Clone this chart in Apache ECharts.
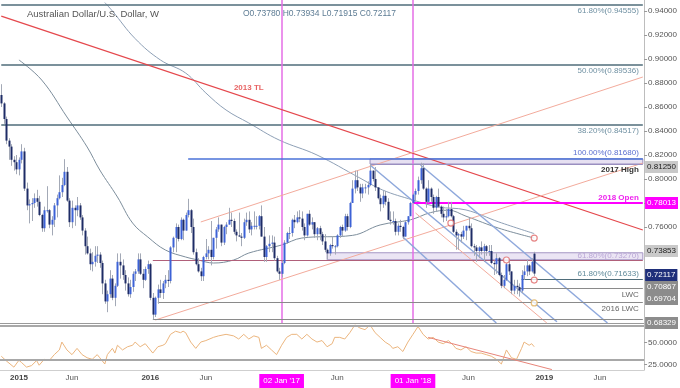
<!DOCTYPE html>
<html><head><meta charset="utf-8">
<script src="https://cdn.jsdelivr.net/npm/echarts@6/dist/echarts.min.js"></script>
<style>html,body{margin:0;padding:0;background:#fff}#c{width:680px;height:388px}</style>
</head><body><div id="c"></div>
<script>
// ---------- data ----------
const firstWeek = '2014-11-17';
const weekCount = 255;
const tickWeeks = [7, 28, 59, 81, 111, 133, 163, 185, 215, 237];
const tickTexts = ['2015','Jun','2016','Jun',"02 Jan '17",'Jun',"01 Jan '18",'Jun','2019','Jun'];
const markedWeeks = [111, 163];
const priceTicks = [0.76,0.78,0.80,0.82,0.84,0.86,0.88,0.90,0.92,0.94];
const rsiTicks = [25, 50];
const rsiLevels = [70, 30];

const opens = [.8700,.8630,.8500,.8320,.8270,.8160,.8140,.8080,.8160,.8230,
.7920,.7780,.7790,.7800,.7840,.7810,.7700,.7590,.7740,.7740,
.7620,.7660,.7780,.7840,.7890,.7950,.8060,.7820,.7640,.7760,
.7740,.7780,.7680,.7570,.7440,.7380,.7290,.7310,.7360,.7370,
.7300,.7130,.6980,.7040,.7170,.7010,.7110,.7310,.7280,.7200,
.7130,.7040,.7100,.7210,.7230,.7330,.7210,.7160,.7250,.7290,
.7010,.6870,.7010,.7080,.7050,.7130,.7160,.7150,.7430,.7510,
.7600,.7500,.7660,.7570,.7700,.7740,.7600,.7390,.7290,.7230,
.7190,.7350,.7380,.7410,.7350,.7510,.7580,.7620,.7470,.7600,
.7620,.7660,.7650,.7560,.7530,.7520,.7510,.7640,.7660,.7580,
.7610,.7610,.7610,.7690,.7520,.7350,.7440,.7460,.7470,.7340,
.7230,.7210,.7300,.7470,.7550,.7550,.7660,.7640,.7680,.7670,
.7600,.7530,.7710,.7620,.7640,.7540,.7590,.7540,.7480,.7410,
.7380,.7450,.7440,.7440,.7530,.7600,.7570,.7690,.7600,.7800,
.7920,.7990,.7930,.7880,.7930,.7930,.7950,.8070,.8000,.7930,
.7840,.7790,.7860,.7810,.7660,.7650,.7650,.7560,.7610,.7600,
.7520,.7640,.7690,.7800,.7870,.7900,.7990,.8090,.7920,.7810,
.7920,.7850,.7760,.7850,.7770,.7710,.7680,.7690,.7750,.7690,
.7560,.7530,.7540,.7520,.7570,.7610,.7590,.7440,.7430,.7400,
.7430,.7400,.7440,.7400,.7400,.7300,.7290,.7340,.7200,.7110,
.7160,.7290,.7230,.7070,.7110,.7100,.7070,.7200,.7230,.7280,
.7230,.73780];
const highs = [.8790,.8640,.8520,.8340,.8290,.8190,.8200,.8180,.8290,.8260,
.7970,.7830,.7840,.7880,.7910,.7860,.7710,.7770,.7940,.7750,
.7690,.7800,.7870,.8030,.8010,.8165,.8100,.7840,.7820,.7780,
.7850,.7800,.7700,.7590,.7520,.7420,.7390,.7440,.7440,.7390,
.7320,.7160,.7070,.7240,.7200,.7130,.7380,.7380,.7330,.7240,
.7180,.7160,.7230,.7250,.7380,.7380,.7250,.7270,.7320,.7300,
.7050,.7020,.7120,.7160,.7150,.7200,.7240,.7440,.7520,.7630,
.7620,.7680,.7670,.7720,.7835,.7750,.7670,.7420,.7340,.7260,
.7360,.7500,.7440,.7650,.7510,.7600,.7680,.7620,.7610,.7640,
.7760,.7720,.7670,.7580,.7720,.7550,.7670,.7720,.7730,.7640,
.7730,.7690,.7700,.7780,.7600,.7450,.7530,.7530,.7520,.7360,
.7260,.7320,.7490,.7560,.7600,.7670,.7700,.7730,.7740,.7730,
.7630,.7710,.7740,.7680,.7640,.7600,.7610,.7560,.7540,.7420,
.7460,.7520,.7450,.7540,.7610,.7620,.7710,.7710,.7810,.7990,
.8070,.8070,.7960,.7960,.7960,.7980,.8125,.8070,.8100,.7930,
.7870,.7900,.7900,.7840,.7730,.7730,.7670,.7630,.7660,.7610,
.7650,.7690,.7810,.7880,.7920,.8020,.8136,.8130,.7930,.7990,
.7930,.7870,.7860,.7920,.7780,.7770,.7750,.7810,.7810,.7700,
.7580,.7550,.7560,.7610,.7610,.7680,.7630,.7460,.7450,.7440,
.7480,.7460,.7450,.7450,.7450,.7320,.7380,.7350,.7220,.7200,
.7300,.7320,.7230,.7160,.7160,.7130,.7240,.7280,.7330,.7290,
.7340,.73934];
const lows = [.8600,.8460,.8290,.8160,.8110,.8070,.8040,.8030,.8130,.7900,
.7740,.7630,.7650,.7760,.7770,.7690,.7560,.7560,.7720,.7590,
.7530,.7600,.7680,.7830,.7850,.7940,.7810,.7600,.7590,.7610,
.7690,.7660,.7530,.7370,.7370,.7240,.7230,.7270,.7300,.7260,
.7040,.6960,.6890,.7010,.6990,.6940,.7100,.7170,.7160,.7070,
.7020,.7010,.7060,.7150,.7210,.7200,.7090,.7150,.7210,.6990,
.6830,.6850,.6960,.7010,.7000,.7090,.7100,.7130,.7390,.7390,
.7480,.7490,.7490,.7570,.7680,.7550,.7370,.7280,.7220,.7150,
.7150,.7330,.7330,.7280,.7330,.7420,.7560,.7440,.7450,.7540,
.7620,.7600,.7540,.7480,.7520,.7440,.7500,.7610,.7550,.7530,
.7580,.7580,.7580,.7520,.7310,.7310,.7390,.7390,.7320,.7220,
.7160,.7180,.7290,.7460,.7500,.7520,.7590,.7630,.7640,.7570,
.7490,.7520,.7610,.7580,.7510,.7490,.7490,.7450,.7390,.7330,
.7360,.7420,.7370,.7430,.7510,.7520,.7560,.7570,.7590,.7800,
.7880,.7900,.7810,.7840,.7880,.7870,.7940,.7980,.7900,.7830,
.7730,.7760,.7780,.7660,.7620,.7620,.7530,.7530,.7560,.7500,
.7520,.7620,.7690,.7790,.7810,.7870,.7960,.7910,.7760,.7800,
.7810,.7710,.7730,.7760,.7680,.7640,.7650,.7680,.7680,.7550,
.7410,.7410,.7470,.7500,.7490,.7570,.7430,.7360,.7310,.7340,
.7370,.7310,.7360,.7360,.7290,.7200,.7210,.7190,.7090,.7090,
.7150,.7200,.7040,.7040,.7040,.7020,.7050,.7160,.7190,.7200,
.7220,.71915];
const closes = [.8630,.8500,.8320,.8270,.8160,.8140,.8080,.8160,.8230,.7920,
.7780,.7790,.7800,.7840,.7810,.7700,.7590,.7740,.7740,.7620,
.7660,.7780,.7840,.7890,.7950,.8060,.7820,.7640,.7760,.7740,
.7780,.7680,.7570,.7440,.7380,.7290,.7310,.7360,.7370,.7300,
.7130,.6980,.7040,.7170,.7010,.7110,.7310,.7280,.7200,.7130,
.7040,.7100,.7210,.7230,.7330,.7210,.7160,.7250,.7290,.7010,
.6870,.7010,.7080,.7050,.7130,.7160,.7150,.7430,.7510,.7600,
.7500,.7660,.7570,.7700,.7740,.7600,.7390,.7290,.7230,.7190,
.7350,.7380,.7410,.7350,.7510,.7580,.7620,.7470,.7600,.7620,
.7660,.7650,.7560,.7530,.7520,.7510,.7640,.7660,.7580,.7610,
.7610,.7610,.7690,.7520,.7350,.7440,.7460,.7470,.7340,.7230,
.7210,.7300,.7470,.7550,.7550,.7660,.7640,.7680,.7670,.7600,
.7530,.7710,.7620,.7640,.7540,.7590,.7540,.7480,.7410,.7380,
.7450,.7440,.7440,.7530,.7600,.7570,.7690,.7600,.7800,.7920,
.7990,.7930,.7880,.7930,.7930,.7950,.8070,.8000,.7930,.7840,
.7790,.7860,.7810,.7660,.7650,.7650,.7560,.7610,.7600,.7520,
.7640,.7690,.7800,.7870,.7900,.7990,.8090,.7920,.7810,.7920,
.7850,.7760,.7850,.7770,.7710,.7680,.7690,.7750,.7690,.7560,
.7530,.7540,.7520,.7570,.7610,.7590,.7440,.7430,.7400,.7430,
.7400,.7440,.7400,.7400,.7300,.7290,.7340,.7200,.7110,.7160,
.7290,.7230,.7070,.7110,.7100,.7070,.7200,.7230,.7280,.7230,
.7310,.72117];

// moving averages (week index, price)
const ma52Weeks  = [7, 16, 26, 34, 39, 46, 52, 58, 65, 73, 78, 84, 92, 98, 111, 119, 139, 150, 162, 170, 177, 184, 197, 211];
const ma52Values = [.8992,.8825,.8517,.8267,.8075,.7850,.7633,.7517,.7408,.7350,.7325,.7300,.7325,.7383,.7450,.7508,.7530,.7617,.7660,.7720,.7740,.7690,.7590,.7508];
const ma200Weeks  = [41, 44, 53, 63, 73, 81, 89, 98, 110, 125, 142, 151, 163, 173, 184, 197, 211];
const ma200Values = [.9470,.9400,.9170,.8992,.8883,.8717,.8575,.8467,.8325,.8200,.8008,.7908,.7825,.7767,.7742,.7642,.7545];

// RSI
const rsiWeeks = [0,2,5,7,8,10,12,14,15,17,19,21,23,24,26,28,30,32,34,36,38,39,41,42,44,45,46,48,50,52,53,55,57,59,60,62,64,65,67,69,71,72,73,75,77,79,81,84,86,89,92,94,96,98,100,102,103,105,107,109,111,113,115,117,119,121,123,125,127,129,131,132,134,136,138,140,142,144,146,148,150,152,154,155,157,159,161,163,165,167,169,171,173,175,177,179,180,182,184,186,188,190,192,194,196,198,200,202,204,206,207,209,210,211];
const rsiValues = [34.5,29.1,21.9,29.8,27.3,21.9,23.7,29.5,24.1,30.9,29.5,36.3,41.7,50.8,41.7,36.3,43.5,36.3,32.7,30.9,36.3,32.7,25.5,36.3,43.5,38.1,47.1,41.7,45.4,47.1,50.8,45.4,48.9,41.7,38.1,45.4,47.1,48.9,59.7,63.3,61.6,63.3,61.6,50.8,43.5,50.8,52.5,56.2,57.9,59.7,57.9,54.3,59.7,54.3,57.9,56.2,43.5,47.1,41.7,36.3,47.1,56.2,59.7,59.7,54.3,59.7,54.3,50.8,52.5,45.4,48.9,56.2,56.2,54.3,61.6,70.5,67.0,65.1,70.5,61.6,56.2,50.8,47.1,43.5,45.4,39.9,50.8,59.7,68.7,59.7,54.3,56.2,50.8,48.9,52.5,47.1,43.5,41.7,45.4,39.9,38.1,38.1,36.3,34.5,30.9,25.5,41.7,32.7,30.9,43.5,50.8,47.1,48.9,45.4];

// annotation levels and trend lines (week index, price)
const fibLevels = [0.94555, 0.89536, 0.84517];
const fibNames  = ['61.80%(0.94555)', '50.00%(0.89536)', '38.20%(0.84517)'];
const fib100 = [74, 0.81680];
const high2017 = [146, 0.81250];
const open2018 = [163, 0.78013];
const zone618 = [129, 0.73853, 0.73270];
const line7327Start = 60;
const fib618b = [206, 0.71633];
const lwc = [205, 0.70867];
const lwc2016 = [62, 0.69704];
const low2016 = [60, 0.68329];
const firstIdx = 0;
const lastWeek = 254;
const tl2013 = [[0, 0.9358], [254, 0.7575]];
const pinkUpper = [[79, 0.7642], [254, 0.8850]];
const pinkLower = [[61, 0.6825], [254, 0.8133]];
const blueDesc1 = [[166, 0.8117], [240, 0.6800]];
const blueDesc2 = [[159, 0.7517], [196, 0.6800]];
const blueDesc3 = [[146, 0.8117], [220, 0.6810]];
const salmonDesc = [[164, 0.7717], [216, 0.6800]];
const rsiTrend = [[169, 56.2], [218, 19.1]];
const redCircles = [[178, 0.7633], [200, 0.7325], [211, 0.7508], [211, 0.7158]];
const goldCircles = [[211, 0.6967]];
const tlLabelAt = [98, 0.8758];

// ---------- build ----------
const weeks = [];
{
  const d0 = new Date(firstWeek + 'T00:00:00Z');
  for (let i = 0; i < weekCount; i++) weeks.push(new Date(d0.getTime() + i * 7 * 864e5).toISOString().slice(0, 10));
}
const candles = closes.map((c, i) => [i, opens[i], c, lows[i], highs[i]]);
const FONT = '"Liberation Sans", Arial, sans-serif';
const last = closes.length - 1;

function seg(a, b, color, width) {
  return [{ coord: a, lineStyle: { color, width, type: 'solid' } }, { coord: b }];
}
function hline(start, price, color, width, label) {
  const item = { coord: [start, price], lineStyle: { color, width, type: 'solid' } };
  if (label) item.label = Object.assign({ show: true, fontFamily: FONT, fontSize: 8, distance: [4, 2] }, label);
  else item.label = { show: false };
  return [item, { coord: [lastWeek, price] }];
}
function box(price, text, bg, fg) {
  return { yAxis: price, lineStyle: { color: 'rgba(0,0,0,0)', width: 1, type: 'solid' },
    label: { show: true, position: 'end', formatter: text, distance: 1, backgroundColor: bg, color: fg,
      fontFamily: FONT, fontSize: 8, padding: [2, 2, 1, 2], lineHeight: 9 } };
}

function renderCandle(params, api) {
  const i = api.value(0), o = api.value(1), c = api.value(2), l = api.value(3), h = api.value(4);
  const pt = api.coord([i, h]), pb = api.coord([i, l]), po = api.coord([i, o]), pc = api.coord([i, c]);
  const x = Math.round(pt[0]);
  const y1 = Math.min(po[1], pc[1]), y2 = Math.max(po[1], pc[1]);
  return { type: 'group', children: [
    { type: 'line', shape: { x1: x + 0.5, y1: pt[1], x2: x + 0.5, y2: pb[1] }, style: { stroke: '#a3a9b6', lineWidth: 1 } },
    { type: 'rect', shape: { x: x - 0.5, y: y1, width: 2, height: Math.max(1, y2 - y1) },
      style: { fill: c >= o ? '#3d62d6' : '#1e2c66' } }
  ] };
}

const fibLines = fibLevels.map((p, k) => hline(firstIdx, p, '#4f6d7a', 1.5,
  { position: 'insideEndBottom', formatter: fibNames[k], color: '#6f90a2' }));

const option = {
  animation: false,
  backgroundColor: '#fff',
  title: [
    { text: 'Australian Dollar/U.S. Dollar, W', left: 22, top: 4,
      textStyle: { fontFamily: FONT, fontSize: 9.5, fontWeight: 'normal', color: '#555' } },
    { text: 'O' + opens[last].toFixed(5) + ' H' + highs[last].toFixed(5) + ' L' + lows[last].toFixed(5) + ' C' + closes[last].toFixed(5),
      left: 238, top: 4, textStyle: { fontFamily: FONT, fontSize: 8.5, fontWeight: 'normal', color: '#5d7c94' } }
  ],
  grid: [
    { left: 0, right: 34, top: 0, height: 323 },
    { left: 0, right: 34, top: 324, height: 49 }
  ],
  xAxis: [
    { type: 'category', gridIndex: 0, data: weeks, boundaryGap: true,
      axisLabel: { show: false }, axisTick: { show: false }, axisLine: { lineStyle: { color: '#9a9a9a', width: 1 } } },
    { type: 'category', gridIndex: 1, data: weeks, boundaryGap: true,
      axisTick: { show: false }, axisLine: { lineStyle: { color: '#cfcfcf' } },
      axisLabel: {
        interval: (idx) => tickWeeks.includes(idx), margin: 4, fontFamily: FONT, fontSize: 8, color: '#555',
        formatter: (v, idx) => {
          const k = tickWeeks.indexOf(idx); if (k < 0) return '';
          const t = tickTexts[k];
          if (markedWeeks.includes(idx)) return '{box|' + t + '}';
          if (/^\d{4}$/.test(t)) return '{yr|' + t + '}';
          return '{mo|' + t + '}';
        },
        rich: {
          yr: { fontFamily: FONT, fontSize: 8, fontWeight: 'bold', color: '#444' },
          mo: { fontFamily: FONT, fontSize: 8, color: '#555' },
          box: { fontFamily: FONT, fontSize: 8, color: '#fff', backgroundColor: '#ff00ff', padding: [3, 4, 3, 4] }
        }
      } }
  ],
  yAxis: [
    { type: 'value', gridIndex: 0, position: 'right', min: 0.68, max: 0.94917,
      splitLine: { show: false }, axisLine: { show: true, lineStyle: { color: '#bdbdbd' } },
      axisTick: { show: true, length: 3, customValues: priceTicks, lineStyle: { color: '#999' } },
      axisLabel: { customValues: priceTicks, formatter: v => v.toFixed(5), fontFamily: FONT, fontSize: 8, color: '#555', margin: 4 } },
    { type: 'value', gridIndex: 1, position: 'right', min: 18.6, max: 71.6,
      splitLine: { show: false }, axisLine: { show: true, lineStyle: { color: '#bdbdbd' } },
      axisTick: { show: true, length: 3, customValues: rsiTicks, lineStyle: { color: '#999' } },
      axisLabel: { customValues: rsiTicks, formatter: v => v.toFixed(4), fontFamily: FONT, fontSize: 8, color: '#555', margin: 4 } }
  ],
  series: [
    { type: 'custom', name: 'AUDUSD', xAxisIndex: 0, yAxisIndex: 0, data: candles,
      encode: { x: 0, y: [1, 2, 3, 4] }, renderItem: renderCandle, silent: true, z: 5,
      markArea: { silent: true, data: [
        [{ coord: [high2017[0], fib100[1]], itemStyle: { color: '#e6e0f1', borderColor: '#9a8fc0', borderWidth: 1 } }, { coord: [lastWeek, high2017[1]] }],
        [{ coord: [zone618[0], zone618[1]], itemStyle: { color: '#ebe5f4', borderColor: '#a596c4', borderWidth: 1 } }, { coord: [lastWeek, zone618[2]] }]
      ] },
      markLine: { silent: true, symbol: ['none', 'none'], animation: false, data: [
        ...fibLines,
        ...markedWeeks.map(w => ({ xAxis: w, lineStyle: { color: '#e46ee6', width: 1.5, type: 'solid' }, label: { show: false } })),
        seg(tl2013[0], tl2013[1], '#e5484d', 1.3),
        seg(pinkUpper[0], pinkUpper[1], '#f3ab9c', 1),
        seg(pinkLower[0], pinkLower[1], '#f3ab9c', 1),
        seg(blueDesc1[0], blueDesc1[1], '#8ea8dc', 1.5),
        seg(blueDesc2[0], blueDesc2[1], '#8ea8dc', 1.5),
        seg(blueDesc3[0], blueDesc3[1], '#8ea8dc', 1.5),
        seg(salmonDesc[0], salmonDesc[1], '#f3ab9c', 1),
        hline(fib100[0], fib100[1], '#4a72d8', 1.5, { position: 'insideEndTop', formatter: '100.00%(0.81680)', color: '#5b6fd0' }),
        hline(high2017[0], high2017[1], '#9a8fc0', 1, { position: 'insideEndBottom', formatter: '2017 High', color: '#333', fontWeight: 'bold' }),
        hline(open2018[0], open2018[1], '#ff00ff', 2, { position: 'insideEndTop', formatter: '2018 Open', color: '#ee22ee', fontWeight: 'bold', distance: [4, 1] }),
        hline(line7327Start, zone618[2], '#b0607a', 1, { position: 'insideEndTop', formatter: '61.80%(0.73270)', color: '#b9a6d6', distance: [4, 0] }),
        hline(fib618b[0], fib618b[1], '#4f6d7a', 1.2, { position: 'insideEndTop', formatter: '61.80%(0.71633)', color: '#5f8a9a' }),
        hline(lwc[0], lwc[1], '#8a8a8a', 1.2, { position: 'insideEndBottom', formatter: 'LWC', color: '#666' }),
        hline(lwc2016[0], lwc2016[1], '#8a8a8a', 1.2, { position: 'insideEndBottom', formatter: '2016 LWC', color: '#666' }),
        hline(low2016[0], low2016[1], '#8a8a8a', 1.2, null),
        box(high2017[1], '0.81250', '#c9c9c9', '#222'),
        box(open2018[1], '0.78013', '#ff00ff', '#fff'),
        box(zone618[1], '0.73853', '#c9c9c9', '#222'),
        box(closes[last], closes[last].toFixed(5), '#1f2f7a', '#fff'),
        box(lwc[1], '0.70867', '#8c8c8c', '#fff'),
        box(lwc2016[1], '0.69704', '#8c8c8c', '#fff'),
        box(low2016[1], '0.68329', '#8c8c8c', '#fff')
      ] } },
    { type: 'line', name: 'MA52', xAxisIndex: 0, yAxisIndex: 0, smooth: 0.4, showSymbol: false, silent: true, z: 3,
      data: ma52Weeks.map((w, i) => [w, ma52Values[i]]), lineStyle: { color: '#7d8e9c', width: 1 } },
    { type: 'line', name: 'MA200', xAxisIndex: 0, yAxisIndex: 0, smooth: 0.4, showSymbol: false, silent: true, z: 3,
      data: ma200Weeks.map((w, i) => [w, ma200Values[i]]), lineStyle: { color: '#8ea0b6', width: 1 } },
    { type: 'scatter', xAxisIndex: 0, yAxisIndex: 0, silent: true, z: 6, symbol: 'circle', symbolSize: 6,
      itemStyle: { color: '#fff', borderColor: '#e06a6a', borderWidth: 1.2 }, data: redCircles },
    { type: 'scatter', xAxisIndex: 0, yAxisIndex: 0, silent: true, z: 6, symbol: 'circle', symbolSize: 6,
      itemStyle: { color: '#fff', borderColor: '#e0b060', borderWidth: 1.2 }, data: goldCircles },
    { type: 'scatter', xAxisIndex: 0, yAxisIndex: 0, silent: true, z: 6, symbolSize: 0,
      data: [tlLabelAt], label: { show: true, position: 'inside', formatter: '2013 TL', color: '#e23b3b', fontWeight: 'bold', fontFamily: FONT, fontSize: 8 } },
    { type: 'line', name: 'RSI', xAxisIndex: 1, yAxisIndex: 1, showSymbol: false, silent: true,
      data: rsiWeeks.map((w, i) => [w, rsiValues[i]]), lineStyle: { color: '#ebb57e', width: 1 },
      markLine: { silent: true, symbol: ['none', 'none'], label: { show: false }, data: [
        ...rsiLevels.map(v => ({ yAxis: v, lineStyle: { color: '#a8a8a8', width: 2, type: 'solid' } })),
        seg(rsiTrend[0], rsiTrend[1], '#e8857a', 1)
      ] } }
  ]
};

const chart = echarts.init(document.getElementById('c'), null, { renderer: 'canvas' });
chart.setOption(option);
</script></body></html>
